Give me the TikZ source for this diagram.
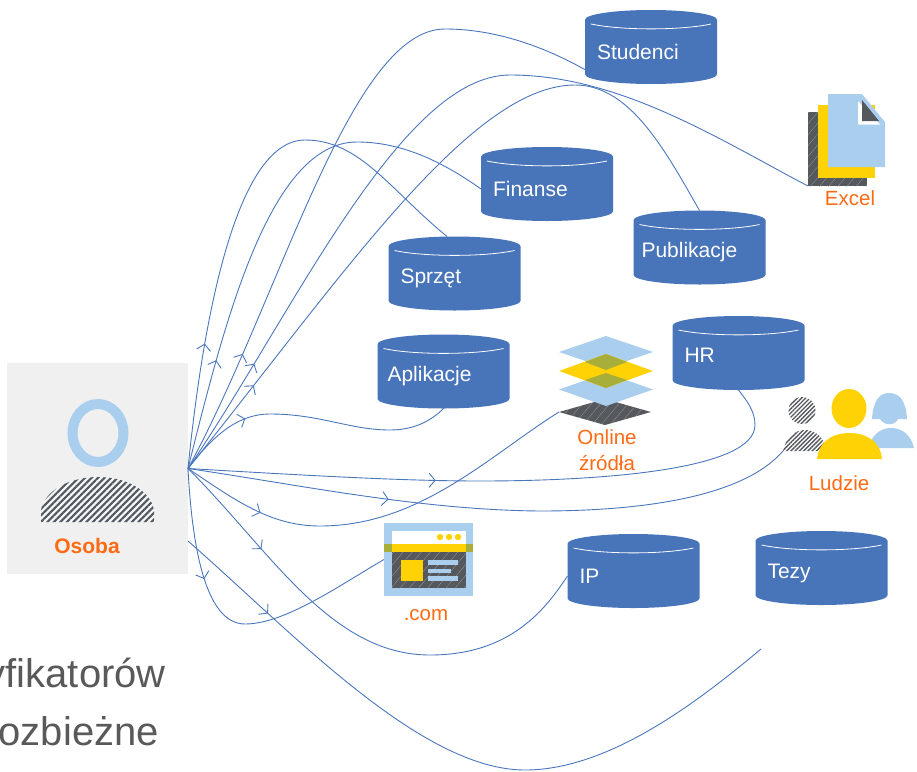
\documentclass[tikz,border=0pt]{standalone}
\usepackage{fontspec}
\setmainfont{Liberation Sans}
\usetikzlibrary{arrows.meta}
\usetikzlibrary{calc}
\usetikzlibrary{decorations.markings}
\usetikzlibrary{patterns.meta}
\usetikzlibrary{shapes.geometric}
\definecolor{dbblue}{HTML}{4874B9}
\definecolor{linkblue}{HTML}{4A76BC}
\definecolor{lightblue}{HTML}{A9CEEE}
\definecolor{goldfill}{HTML}{FFD205}
\definecolor{olivefill}{HTML}{A8AE3A}
\definecolor{darkfill}{HTML}{55585C}
\definecolor{labelorange}{HTML}{FF6A13}
\definecolor{panelgrey}{HTML}{F0F0F0}
\definecolor{closinggrey}{HTML}{595959}
\tikzset{
    dbcyl/.style={cylinder,shape border rotate=90,aspect=0.18,anchor=shape center,fill=dbblue,text=white,
        minimum width=132pt,minimum height=74pt,inner sep=0pt,outer sep=0pt,
        text width=108pt,align=left,font=\fontsize{21}{24}\selectfont,
        path picture={
            \draw[white,line width=0.8pt]
                ($(path picture bounding box.north west)+(6,14)$)
                .. controls ($(path picture bounding box.north)+(-30,20.5)$)
                and ($(path picture bounding box.north)+(30,20.5)$)
                .. ($(path picture bounding box.north east)+(-6,14)$);
        }},
    orangetext/.style={text=labelorange,font=\fontsize{20.5}{26}\selectfont,align=center,inner sep=0pt},
    closingtext/.style={text=closinggrey,font=\fontsize{40}{44}\selectfont,anchor=base east,inner sep=0pt},
    hatchdark/.style={preaction={fill=darkfill},pattern={Lines[angle=50,distance=7pt,line width=0.25pt]},pattern color=white!45!darkfill},
    hatchstripe/.style={preaction={fill=#1},pattern={Lines[angle=45,distance=4.6pt,line width=2.2pt]},pattern color=darkfill},
    hatchfine/.style={preaction={fill=white},pattern={Lines[angle=45,distance=3pt,line width=1.4pt]},pattern color=darkfill},
    flat/.style={inner sep=0pt,outer sep=0pt,fill=#1},
    flow/.style={decoration={markings,mark=at position #1 with {\arrow{Straight Barb[length=6pt,width=14pt]}}},postaction=decorate},
    link/.style={draw=linkblue,line width=0.9pt}
}
\begin{document}
\begin{tikzpicture}[x=1pt,y=-1pt]
    \useasboundingbox (0,0) rectangle (917,771);
    \node[flat=panelgrey,minimum width=181pt,minimum height=211pt] (osoba) at (97.5,468.5) {};
    \draw[lightblue,line width=10pt] (98,433) ellipse [x radius=25.5,y radius=29];
    \path[hatchstripe=white!85!lightblue] (41,522) -- (41,510) .. controls (45,490) and (70,477) .. (98,477)
        .. controls (126,477) and (150,490) .. (154,510) -- (154,522) -- cycle;
    \node[text=labelorange,font=\bfseries\fontsize{21}{24}\selectfont,inner sep=0pt] (osobatext) at (87,546) {Osoba};

    \node[dbcyl] (studenci) at (651,47) {Studenci};
    \node[dbcyl] (finanse) at (547,184) {Finanse};
    \node[dbcyl] (publikacje) at (699.5,247.5) {\hspace*{-4pt}Publikacje};
    \node[dbcyl] (sprzet) at (454.5,273.5) {Sprzęt};
    \node[dbcyl] (aplikacje) at (443.5,371.5) {\hspace*{-2pt}\raisebox{-3pt}{Aplikacje}};
    \node[dbcyl] (hr) at (738.5,353) {\raisebox{6pt}{HR}};
    \node[dbcyl] (ip) at (633.5,571) {IP};
    \node[dbcyl] (tezy) at (821.5,568) {Tezy};

    \node[flat=darkfill,hatchdark,minimum width=59pt,minimum height=74pt] (exceldark) at (837.5,149) {};
    \node[flat=goldfill,minimum width=57pt,minimum height=73pt] (excelgold) at (846.5,141.5) {};
    \fill[lightblue] (828,94) -- (862,94) -- (885,122) -- (885,167) -- (828,167) -- cycle;
    \fill[white] (858,101) -- (858,124.5) -- (880,124.5) -- cycle;
    \fill[darkfill] (862,100) -- (862,121) -- (879,121) -- cycle;
    \node[orangetext] (exceltext) at (850,198) {Excel};

    \node[diamond,flat=darkfill,hatchdark,minimum width=92pt,minimum height=26pt] (onlinedark) at (605,412) {};
    \node[diamond,flat=lightblue,minimum width=94pt,minimum height=33pt] (onlinelow) at (606,389.5) {};
    \node[diamond,flat=lightblue,minimum width=94pt,minimum height=32pt] (onlinetop) at (606,352) {};
    \node[diamond,flat=goldfill,minimum width=94pt,minimum height=34pt] (onlinemid) at (606,371) {};
    \fill[olivefill] (585,362) -- (606,354) -- (627,362) -- (606,370) -- cycle;
    \fill[olivefill] (585,380) -- (606,373) -- (627,380) -- (606,388) -- cycle;
    \node[orangetext] (onlinetext) at (607,450) {Online\\źródła};

    \path[hatchfine] (802,410.5) circle (13.5);
    \node[flat=none,minimum width=44pt,minimum height=21pt] (ludzieback) at (805,440.5) {};
    \path[hatchfine] (783,451) .. controls (786,437) and (795,430) .. (805,430)
        .. controls (815,430) and (824,437) .. (827,451) -- cycle;
    \fill[lightblue] (872,419) .. controls (873,400) and (880,393) .. (889,393)
        .. controls (899,393) and (906,400) .. (907,419) -- (898,419) .. controls (895,426) and (884,426) .. (880,419) -- cycle;
    \fill[lightblue] (868,448) .. controls (872,435) and (880,428) .. (891,428)
        .. controls (902,428) and (911,435) .. (914,448) -- cycle;
    \fill[goldfill] (849,408.5) ellipse [x radius=17.5,y radius=19.5];
    \fill[goldfill] (817,459) .. controls (818,444) and (830,433) .. (849.5,433)
        .. controls (869,433) and (881,444) .. (882,459) -- cycle;
    \node[orangetext] (ludzietext) at (839,483) {Ludzie};

    \node[flat=lightblue,minimum width=89pt,minimum height=73pt] (com) at (428.5,559.5) {};
    \fill[white] (392,531) rectangle (466,544);
    \fill[olivefill] (384,544) rectangle (473,552);
    \fill[goldfill] (392,544) rectangle (466,552);
    \path[hatchdark] (392,552) rectangle (466,588);
    \fill[goldfill] (401,560) rectangle (423,581);
    \fill[lightblue] (428,560) rectangle (458,564.5);
    \fill[lightblue] (428,568.5) rectangle (451,573);
    \fill[lightblue] (428,576) rectangle (458,581);
    \foreach \dotx in {440,449,458}
        \fill[goldfill] (\dotx,537) circle (3.2);
    \node[orangetext] (comtext) at (426,615) {.com};

    \node[closingtext] (closingone) at (166,687) {yfikatorów};
    \node[closingtext] (closingtwo) at (159,745) {rozbieżne};

    \coordinate (osobaedge) at (188,541);
    \coordinate (tezyend) at (761,649);

    \draw[link,flow=126pt] (osoba.east) .. controls (205,300) and (240,140) .. (305,140) .. controls (360,140) and (390,190) .. (sprzet.100);
    \draw[link,flow=112pt] (osoba.east) .. controls (225,320) and (270,142) .. (357,142) .. controls (400,142) and (440,160) .. (finanse.west);
    \draw[link,flow=127pt] (osoba.east) .. controls (280,300) and (350,29) .. (445,29) .. controls (500,29) and (550,50) .. (studenci.195);
    \draw[link,flow=124pt] (osoba.east) .. controls (290,320) and (400,75) .. (510,75) .. controls (620,75) and (720,140) .. (exceldark.south west);
    \draw[link,flow=106pt] (osoba.east) .. controls (340,280) and (470,85) .. (575,85) .. controls (630,85) and (665,150) .. (publikacje.north);
    \draw[link,flow=77pt] (osoba.east) .. controls (210,440) and (235,414) .. (270,414) .. controls (320,414) and (350,430) .. (390,430) .. controls (415,430) and (432,420) .. (aplikacje.south);
    \draw[link,flow=248pt] (osoba.east) .. controls (300,475) and (400,481) .. (480,481) .. controls (600,481) and (755,470) .. (755,425) .. controls (755,412) and (748,402) .. (hr.south);
    \draw[link,flow=203pt] (osoba.east) .. controls (300,485) and (420,510) .. (540,511) .. controls (650,511) and (745,495) .. (ludzieback.south west);
    \draw[link,flow=85pt] (osoba.east) .. controls (235,500) and (270,526) .. (320,526) .. controls (420,526) and (490,455) .. (onlinedark.west);
    \draw[link,flow=109pt] (osoba.east) .. controls (270,550) and (330,655) .. (430,655) .. controls (510,655) and (545,610) .. (ip.west);
    \draw[link,flow=112pt] (osoba.east) .. controls (192,545) and (205,624) .. (245,624) .. controls (285,624) and (340,585) .. (com.west);
    \draw[link,flow=108pt] (osobaedge) .. controls (290,630) and (420,770) .. (525,770) .. controls (610,770) and (700,700) .. (tezyend);
\end{tikzpicture}
\end{document}
